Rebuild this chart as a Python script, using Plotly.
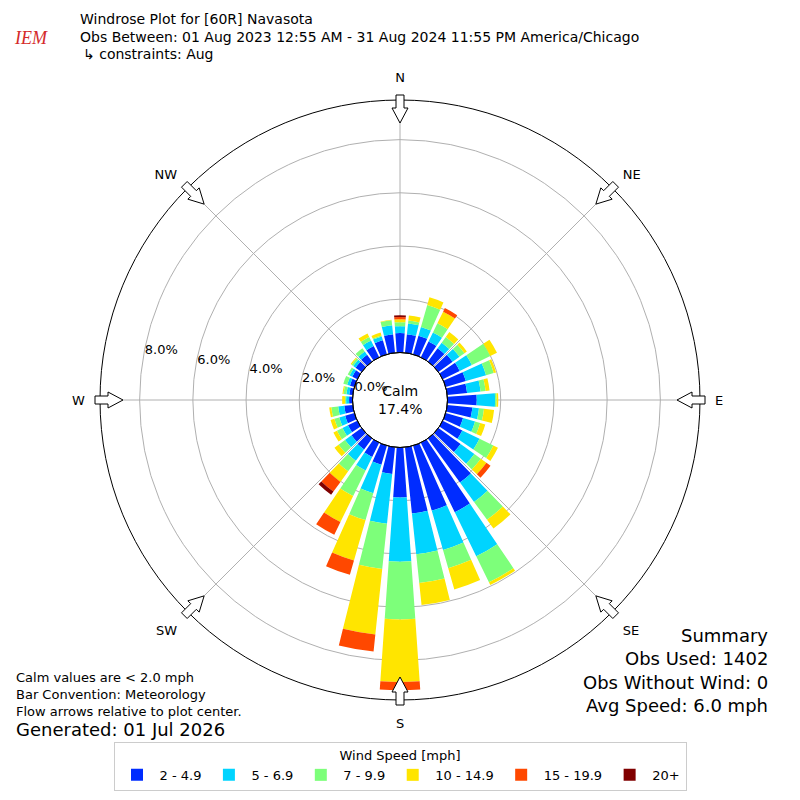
import math
import plotly.graph_objects as go

# wind direction bins (degrees, direction wind blows from)
directions = list(range(0, 360, 10))

speed_bins = ["2 - 4.9", "5 - 6.9", "7 - 9.9", "10 - 14.9", "15 - 19.9", "20+"]
bin_colors = ["#002cff", "#00d4ff", "#7dff7a", "#ffe500", "#ff4800", "#800000"]

# percent of all observations, one value per direction (0, 10, ... 350)
pct_2_5 = [0.73, 0.70, 0.73, 0.66, 0.62, 0.66, 0.71, 0.79, 0.75, 1.10, 0.95, 0.68,
           0.82, 1.03, 2.05, 2.91, 2.54, 2.50, 1.88, 1.01, 0.75, 0.60, 0.51, 0.47,
           0.39, 0.36, 0.32, 0.13, 0.13, 0.17, 0.21, 0.28, 0.32, 0.47, 0.55, 0.70]
pct_5_7 = [0.26, 0.41, 0.34, 0.38, 0.26, 0.32, 0.51, 0.79, 0.51, 0.69, 0.25, 0.47,
           0.72, 0.64, 0.90, 1.84, 1.54, 1.54, 2.41, 1.88, 1.11, 0.56, 0.53, 0.30,
           0.23, 0.23, 0.23, 0.11, 0.11, 0.11, 0.11, 0.11, 0.15, 0.23, 0.15, 0.34]
pct_7_10 = [0.15, 0.11, 0.86, 0.38, 0.26, 0.23, 0.77, 0.30, 0.19, 0.06, 0.19, 0.20,
            0.58, 0.30, 0.83, 1.09, 0.71, 1.09, 2.17, 1.71, 1.05, 1.07, 0.49, 0.30,
            0.23, 0.19, 0.26, 0.04, 0.11, 0.15, 0.08, 0.08, 0.15, 0.15, 0.04, 0.19]
pct_10_15 = [0.11, 0.19, 0.30, 0.49, 0.23, 0.11, 0.28, 0.09, 0.15, 0.06, 0.38, 0.20,
             0.19, 0.26, 0.41, 0.11, 0.83, 0.83, 2.35, 2.48, 1.58, 1.09, 0.49, 0.19,
             0.15, 0.15, 0.08, 0.11, 0.04, 0.00, 0.00, 0.04, 0.00, 0.15, 0.11, 0.02]
pct_15_20 = [0.08, 0.00, 0.00, 0.15, 0.00, 0.00, 0.00, 0.00, 0.00, 0.00, 0.00, 0.00,
             0.00, 0.19, 0.00, 0.00, 0.00, 0.00, 0.31, 0.64, 0.56, 0.53, 0.45, 0.00,
             0.00, 0.00, 0.00, 0.00, 0.00, 0.00, 0.00, 0.00, 0.00, 0.00, 0.00, 0.00]
pct_20p = [0.07, 0.00, 0.00, 0.00, 0.00, 0.00, 0.00, 0.00, 0.00, 0.00, 0.00, 0.00,
           0.00, 0.00, 0.00, 0.00, 0.00, 0.00, 0.00, 0.00, 0.00, 0.00, 0.15, 0.00,
           0.00, 0.00, 0.00, 0.00, 0.00, 0.00, 0.00, 0.00, 0.00, 0.00, 0.00, 0.00]

series = [pct_2_5, pct_5_7, pct_7_10, pct_10_15, pct_15_20, pct_20p]

compass_vals = [0, 45, 90, 135, 180, 225, 270, 315]
compass_text = ["N", "NE", "E", "SE", "S", "SW", "W", "NW"]
radial_ticks = [0, 2, 4, 6, 8]
radial_text = ["0.0%", "2.0%", "4.0%", "6.0%", "8.0%"]

calm_pct = 17.4
FONT = "DejaVu Sans"
W = H = 800
OFF = 8  # page body margin, compensated so the picture lands where intended


def px(x):
    return (x - OFF) / W


def py(y):
    return 1 - (y - OFF) / H


fig = go.Figure()

for name, vals, col in zip(speed_bins, series, bin_colors):
    fig.add_trace(go.Barpolar(
        r=vals, theta=directions, width=8, name=name,
        marker=dict(color=col, line=dict(width=0)),
    ))

CX, CY, R = 400, 400, 300
HOLE = 47.5
RAD_ANGLE = 170


# hollow flow arrows on the outer ring
def arrow_path(deg, r_tail=305):
    pts = [(0, -4), (13, -4), (13, -8), (28, 0), (13, 8), (13, 4), (0, 4)]
    s, c = math.sin(math.radians(deg)), math.cos(math.radians(deg))
    out = []
    for u, v in pts:
        x = CX + (r_tail - u) * s + v * c
        y = CY - (r_tail - u) * c + v * s
        out.append(f"{px(x):.5f},{py(y):.5f}")
    return "M" + "L".join(out) + "Z"


shapes = []
for d in compass_vals:
    shapes.append(dict(type="path", path=arrow_path(d), xref="paper", yref="paper",
                       fillcolor="white", line=dict(color="black", width=1), layer="above"))

# calm circle edge
shapes.append(dict(type="circle", xref="paper", yref="paper",
                   x0=px(CX - HOLE), x1=px(CX + HOLE),
                   y0=py(CY + HOLE), y1=py(CY - HOLE),
                   line=dict(color="black", width=1), layer="above"))

fig.update_layout(
    width=W, height=H,
    margin=dict(l=0, r=0, t=0, b=0),
    paper_bgcolor="white",
    font=dict(family=FONT, size=13, color="black"),
    shapes=shapes,
    polar=dict(
        domain=dict(x=[px(CX - R), px(CX + R)], y=[py(CY + R), py(CY - R)]),
        hole=HOLE / R,
        bgcolor="white",
        barmode="stack",
        radialaxis=dict(
            range=[0, 9.49], tickmode="array", tickvals=radial_ticks, ticktext=radial_text,
            angle=RAD_ANGLE, tickangle=RAD_ANGLE, showline=False, ticks="",
            gridcolor="#b0b0b0", gridwidth=1,
            tickfont=dict(size=13), layer="above traces",
        ),
        angularaxis=dict(
            rotation=90, direction="clockwise", tickmode="array",
            tickvals=compass_vals, ticktext=compass_text,
            ticks="outside", ticklen=12, tickcolor="rgba(0,0,0,0)",
            showline=True, linecolor="black", linewidth=1,
            gridcolor="#b0b0b0", gridwidth=1, layer="above traces",
            tickfont=dict(size=13),
        ),
    ),
    legend=dict(
        orientation="h", x=px(400), xanchor="center", y=py(742), yanchor="top",
        bordercolor="#cccccc", borderwidth=1, bgcolor="white",
        font=dict(size=13), itemwidth=35,
        title=dict(text="Wind Speed [mph]", side="top center", font=dict(size=13)),
    ),
)


def note(text, x, y, size, anchor="left", color="black", family=FONT):
    fig.add_annotation(text=text, x=px(x), y=py(y), xref="paper", yref="paper",
                       showarrow=False, xanchor=anchor, yanchor="middle",
                       font=dict(size=size, color=color, family=family))


# header
note("<i>IEM</i>", 12, 38, 18, color="#d42a2a", family="Liberation Serif")
note("Windrose Plot for [60R] Navasota", 78, 19, 14)
note("Obs Between: 01 Aug 2023 12:55 AM - 31 Aug 2024 11:55 PM America/Chicago", 78, 37, 14)
note("↳ constraints: Aug", 81, 54, 14)

# centre
note(f"Calm<br>{calm_pct}%", CX, CY, 14, anchor="center")

# footer left
note("Calm values are < 2.0 mph", 14, 677, 13)
note("Bar Convention: Meteorology", 14, 694, 13)
note("Flow arrows relative to plot center.", 14, 711, 13)
note("Generated: 01 Jul 2026", 14, 729, 18)

# summary right
note("Summary", 770, 635, 18, anchor="right")
note("Obs Used: 1402", 770, 658, 18, anchor="right")
note("Obs Without Wind: 0", 770, 682, 18, anchor="right")
note("Avg Speed: 6.0 mph", 770, 705, 18, anchor="right")

fig.write_html("out.html")
